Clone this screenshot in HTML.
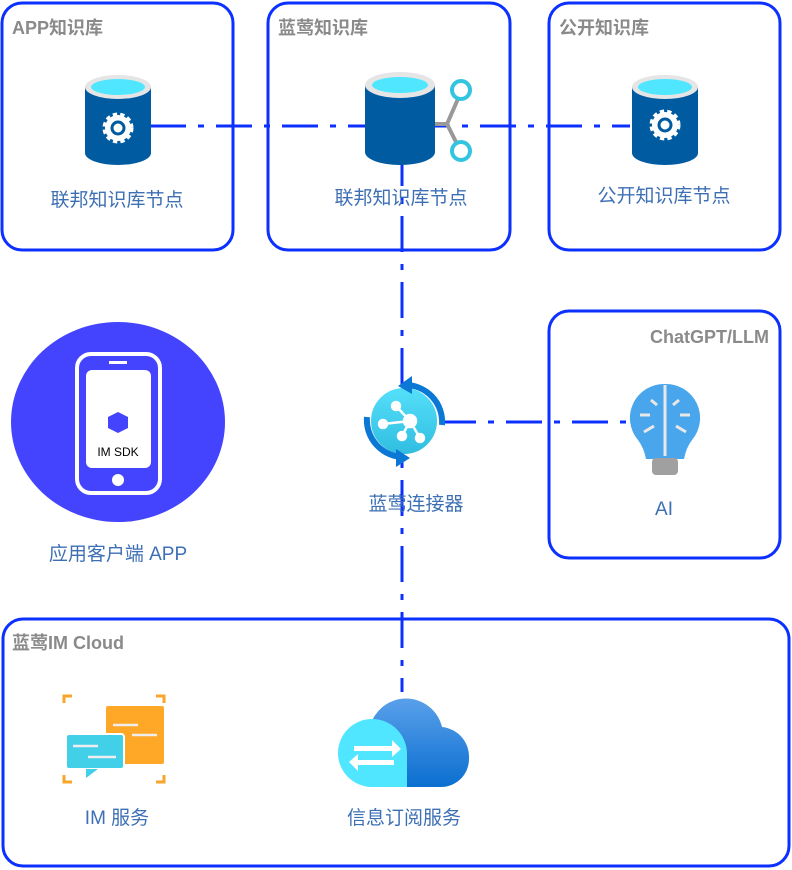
<!DOCTYPE html>
<html><head><meta charset="utf-8"><style>body{margin:0;background:#fff}svg{display:block}text{font-family:"Liberation Sans","Noto Sans CJK SC",sans-serif}</style></head><body>
<svg width="792" height="870" viewBox="0 0 792 870" xmlns="http://www.w3.org/2000/svg">
<defs>
<linearGradient id="cg" x1="0" y1="0" x2="0" y2="1"><stop offset="0" stop-color="#5aa0ea"/><stop offset="1" stop-color="#0a6fd0"/></linearGradient>
<linearGradient id="hub" x1="0" y1="0" x2="0" y2="1"><stop offset="0" stop-color="#55e0fa"/><stop offset="1" stop-color="#30bde0"/></linearGradient>
</defs>
<g fill="none" stroke="#0b30ff" stroke-width="3">
<rect x="2" y="3" width="231" height="247" rx="20"/>
<rect x="268" y="3" width="242" height="247" rx="20"/>
<rect x="549" y="3" width="231" height="247" rx="20"/>
<rect x="549" y="311" width="231" height="247" rx="20"/>
<rect x="3" y="619" width="786" height="247" rx="20"/>
<g stroke-dasharray="36,12,6,12">
<line x1="150" y1="126" x2="630" y2="126"/>
<line x1="402" y1="150" x2="402" y2="692"/>
<line x1="440" y1="422" x2="630" y2="422"/>
</g>
</g>
<g font-size="18" font-weight="bold" fill="#8a8a8a">
<text x="12" y="34">APP知识库</text>
<text x="278" y="34">蓝莺知识库</text>
<text x="559" y="34">公开知识库</text>
<text x="769" y="343" text-anchor="end">ChatGPT/LLM</text>
<text x="12" y="649">蓝莺IM Cloud</text>
</g>
<g font-size="19" fill="#3d6fb5" text-anchor="middle">
<text x="117" y="206">联邦知识库节点</text>
<text x="401" y="204">联邦知识库节点</text>
<text x="664" y="202">公开知识库节点</text>
<text x="118" y="560">应用客户端 APP</text>
<text x="416" y="510">蓝莺连接器</text>
<text x="664" y="515">AI</text>
<text x="117" y="824">IM 服务</text>
<text x="404" y="824">信息订阅服务</text>
</g>
<g>
<path d="M85 87 v66 a33 12 0 0 0 66 0 v-66z" fill="#005ba1"/>
<ellipse cx="118" cy="87" rx="33" ry="12" fill="#e5e5e5"/>
<ellipse cx="118" cy="87" rx="27" ry="8" fill="#50e6ff"/>
<circle cx="118" cy="128" r="13" fill="#fff" stroke="#fff" stroke-width="5" stroke-dasharray="4,3"/>
<circle cx="118" cy="128" r="6" fill="none" stroke="#005ba1" stroke-width="3"/>
</g>
<g>
<path d="M632 87 v66 a33 12 0 0 0 66 0 v-66z" fill="#005ba1"/>
<ellipse cx="665" cy="87" rx="33" ry="12" fill="#e5e5e5"/>
<ellipse cx="665" cy="87" rx="27" ry="8" fill="#50e6ff"/>
<circle cx="665" cy="125" r="13" fill="#fff" stroke="#fff" stroke-width="5" stroke-dasharray="4,3"/>
<circle cx="665" cy="125" r="6" fill="none" stroke="#005ba1" stroke-width="3"/>
</g>
<g>
<path d="M365 85 v67 a35 13 0 0 0 70 0 v-67z" fill="#005ba1"/>
<ellipse cx="400" cy="85" rx="35" ry="13" fill="#e5e5e5"/>
<ellipse cx="400" cy="85" rx="28" ry="8" fill="#50e6ff"/>
<path d="M435 124 h12 l14 -32 M447 124 l14 28" stroke="#999" stroke-width="4" fill="none"/>
<circle cx="461" cy="90" r="9" fill="#fff" stroke="#33c4e0" stroke-width="4"/>
<circle cx="461" cy="151" r="9" fill="#fff" stroke="#33c4e0" stroke-width="4"/>
</g>
<ellipse cx="118" cy="422" rx="107" ry="100" fill="#4444ff"/>
<rect x="77" y="354" width="83" height="139" rx="14" fill="none" stroke="#fff" stroke-width="4"/>
<rect x="86" y="370" width="65" height="98" rx="6" fill="#fff"/>
<rect x="109" y="361" width="18" height="3" fill="#fff"/>
<circle cx="118" cy="480" r="6" fill="#fff"/>
<path d="M118 412 l10 5 v11 l-10 5 l-10 -5 v-11z" fill="#4444ff"/>
<text x="118" y="456" font-size="12" text-anchor="middle" fill="#000">IM SDK</text>
<circle cx="404" cy="421" r="34" fill="url(#hub)" stroke="#fff" stroke-width="2"/>
<path d="M404 385 a37 37 0 0 1 38 40" fill="none" stroke="#0a78d4" stroke-width="6"/>
<path d="M404 457 a37 37 0 0 1 -37 -40" fill="none" stroke="#0a78d4" stroke-width="6"/>
<path d="M398 386 l14 -10 v18z M410 458 l-14 -9 v18z" fill="#0a78d4"/>
<g stroke="#fff" stroke-width="2.5" fill="#fff"><line x1="383" y1="424" x2="410" y2="421"/><line x1="396" y1="406" x2="410" y2="421"/><line x1="410" y1="421" x2="420" y2="438"/><line x1="410" y1="421" x2="402" y2="436"/><circle cx="383" cy="424" r="4"/><circle cx="396" cy="406" r="4"/><circle cx="410" cy="421" r="6"/><circle cx="420" cy="438" r="4"/><circle cx="402" cy="436" r="4"/></g>
<path d="M665 384 a34 34 0 0 1 27 56 q-6 8 -8 19 h-38 q-2 -11 -8 -19 a34 34 0 0 1 27 -56z" fill="#4aa6ec"/>
<rect x="652" y="458" width="26" height="17" rx="4" fill="#a0a0a0"/>
<g stroke="#e8e8e8" stroke-width="3" fill="none"><line x1="665" y1="385" x2="665" y2="456"/><path d="M651 400 l6 5 M640 415 h10 M644 432 l10 -6 M679 400 l-6 5 M690 415 h-10 M686 432 l-10 -6"/></g>
<g stroke="#f8a52a" stroke-width="3" fill="none"><path d="M64 703 v-7 h8 M164 703 v-7 h-8 M64 775 v7 h8 M164 775 v7 h-8"/></g>
<rect x="106" y="706" width="58" height="58" rx="2" fill="#ffa726"/>
<rect x="66" y="734" width="58" height="35" rx="3" fill="#42cfe8" stroke="#fff" stroke-width="2"/>
<path d="M86 769 v9 l12 -9z" fill="#42cfe8"/>
<g stroke="#eee" stroke-width="2.5"><line x1="113" y1="725" x2="138" y2="725"/><line x1="132" y1="735" x2="157" y2="735"/><line x1="73" y1="746" x2="98" y2="746"/><line x1="88" y1="757" x2="116" y2="757"/></g>
<path d="M370 787 v-60 a37 37 0 0 1 72 0 a30 30 0 0 1 27 32 a28 28 0 0 1 -28 28z" fill="url(#cg)"/>
<path d="M407 787 h-35 a34 34 0 0 1 0 -68 a35 35 0 0 1 35 35z" fill="#50e6ff"/>
<path d="M354 746 h38 v-6 l9 9 -9 8 v-6 h-38z M394 760 h-36 v-6 l-9 8 9 9 v-6 h36z" fill="#fff"/>
</svg>
</body></html>
